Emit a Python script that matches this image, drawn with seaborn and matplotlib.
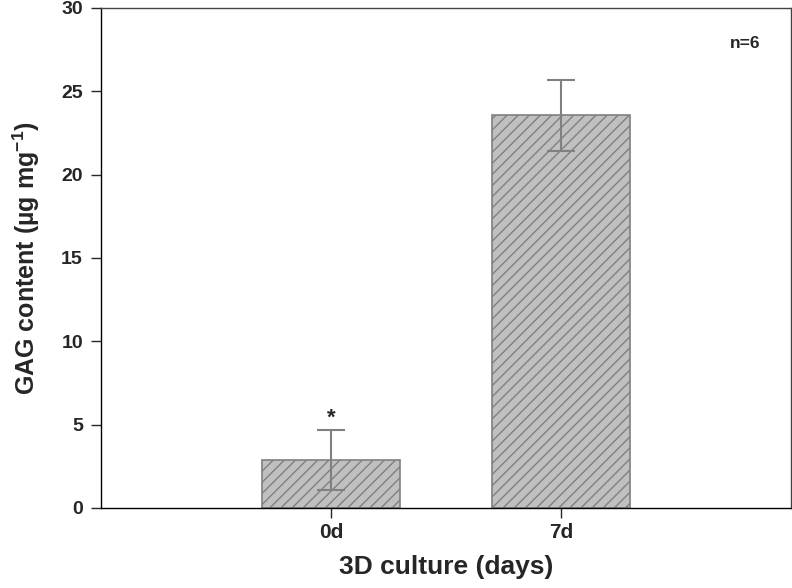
import matplotlib
matplotlib.use("Agg")
import matplotlib.pyplot as plt
import seaborn as sns
import pandas as pd

categories = ["0d", "7d"]
means = [2.9, 23.55]
errors = [1.8, 2.15]
annotations = ["*", ""]

sns.set_style("white")
plt.rcParams['font.family'] = ['Liberation Sans', 'DejaVu Sans']
plt.rcParams['hatch.color'] = '#808080'
plt.rcParams['hatch.linewidth'] = 1.0
plt.rcParams['mathtext.fontset'] = 'custom'
plt.rcParams['mathtext.rm'] = 'Liberation Sans:bold'
plt.rcParams['mathtext.bf'] = 'Liberation Sans:bold'

df = pd.DataFrame({"day": categories, "gag": means})

fig = plt.figure(figsize=(7.92, 5.88), dpi=100)
ax = fig.add_axes([101/792, 80/588, 690/792, 500/588])

sns.barplot(data=df, x="day", y="gag", color="#c0c0c0", width=0.6,
            edgecolor="#808080", linewidth=1.2, saturation=1, ax=ax, errorbar=None)
for p in ax.patches:
    p.set_hatch("///")
    p.set_facecolor("#c0c0c0")
    p.set_edgecolor("#808080")

ax.errorbar(range(len(categories)), means, yerr=errors, fmt="none",
            ecolor="#808080", elinewidth=1.5, capsize=10, capthick=1.5)

for i, (m, e, a) in enumerate(zip(means, errors, annotations)):
    if a:
        ax.text(i, m + e + 0.05, a, ha="center", va="bottom", fontsize=16, fontweight="bold")

ax.text(0.955, 0.93, "n=6", transform=ax.transAxes, ha="right", va="center",
        fontsize=12.5, fontweight="bold")

ax.set_xlim(-1, 2)
ax.set_ylim(0, 30)
ax.set_yticks([0, 5, 10, 15, 20, 25, 30])
ax.set_xlabel("3D culture (days)", fontsize=19, fontweight="bold", labelpad=9)
ax.set_ylabel("GAG content (µg mg$^{\\mathrm{-1}}$)", fontsize=18, fontweight="bold", labelpad=14)

for s in ax.spines.values():
    s.set_visible(True)
    s.set_color("#000000")
    s.set_linewidth(1.0)
ax.spines['top'].set_color('#444444')
ax.spines['right'].set_color('#444444')

ax.tick_params(axis="both", which="both", direction="out", length=7, width=1,
               bottom=True, left=True, top=False, right=False, pad=6)
ax.tick_params(axis="x", labelsize=15, pad=4)
ax.tick_params(axis="y", labelsize=14)
for lab in ax.get_xticklabels() + ax.get_yticklabels():
    lab.set_fontweight("bold")

fig.savefig("out.png", dpi=100)
